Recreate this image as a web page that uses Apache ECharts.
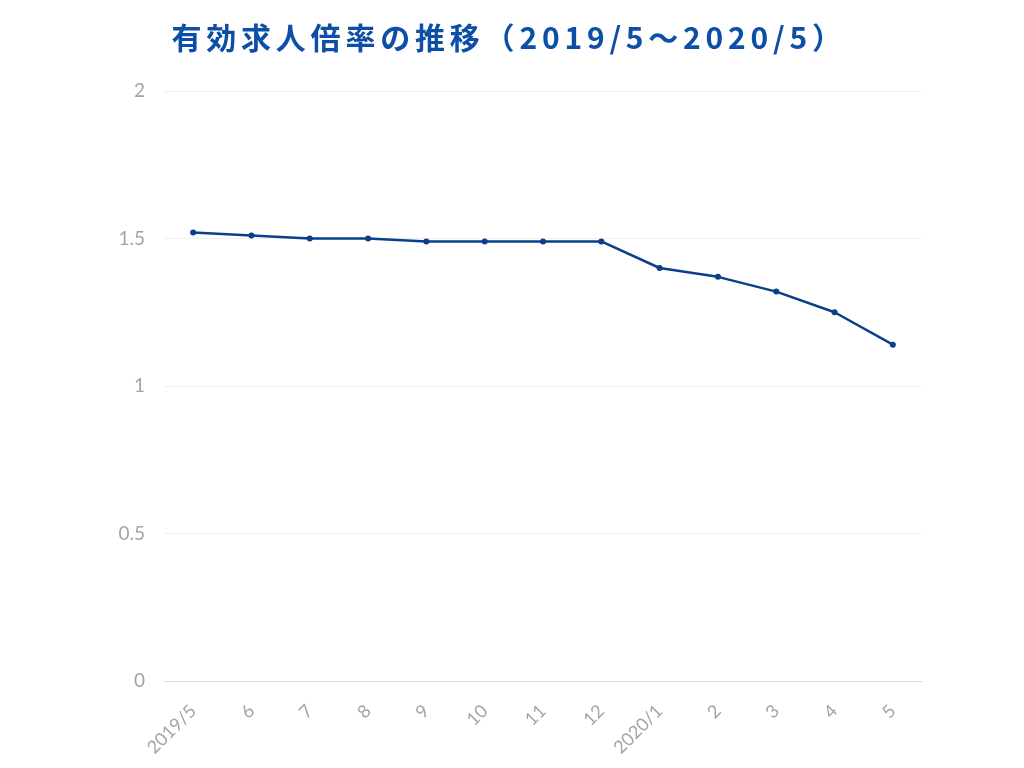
<!DOCTYPE html>
<html>
<head>
<meta charset="utf-8">
<script src="https://cdn.jsdelivr.net/npm/echarts@6/dist/echarts.min.js"></script>
<style>
  html, body { margin: 0; padding: 0; background: #fff; }
  #main { width: 1024px; height: 768px; }
</style>
</head>
<body>
<div id="main"></div>
<script>
// データ
const months = ['2019/5', '6', '7', '8', '9', '10', '11', '12', '2020/1', '2', '3', '4', '5']
const ratios = [1.52, 1.51, 1.50, 1.50, 1.49, 1.49, 1.49, 1.49, 1.40, 1.37, 1.32, 1.25, 1.14]
const titleText = '有効求人倍率の推移（2019/5〜2020/5）'

// タイトルは字間を空けたいので1文字ずつrichで包む
const spacedTitle = titleText.split('').map(ch => '{c|' + ch + '}').join('')

const chart = echarts.init(document.getElementById('main'))

chart.setOption({
  animation: false,
  title: {
    text: spacedTitle,
    left: 164,
    top: 18,
    textStyle: {
      color: '#0d4ea6',
      fontSize: 30,
      fontWeight: 'bold',
      fontFamily: '"Noto Sans CJK JP", sans-serif',
      rich: {
        c: {
          color: '#0d4ea6',
          fontSize: 30,
          fontWeight: 'bold',
          fontFamily: '"Noto Sans CJK JP", sans-serif',
          padding: [0, 2.4]
        }
      }
    }
  },
  grid: {
    left: 164,
    right: 102,
    top: 91,
    bottom: 87
  },
  xAxis: {
    type: 'category',
    data: months,
    boundaryGap: true,
    axisLine: { lineStyle: { color: '#dddddd' } },
    axisTick: { show: false },
    axisLabel: {
      rotate: 45,
      color: '#a4a4a4',
      fontSize: 18,
      fontFamily: 'Lato, sans-serif',
      margin: 27,
      interval: 0
    }
  },
  yAxis: {
    type: 'value',
    min: 0,
    max: 2,
    interval: 0.5,
    axisLine: { show: false },
    axisTick: { show: false },
    splitLine: { lineStyle: { color: '#efefef' } },
    axisLabel: {
      color: '#a4a4a4',
      fontSize: 19,
      fontFamily: 'Lato, sans-serif',
      margin: 19
    }
  },
  series: [{
    type: 'line',
    data: ratios,
    symbol: 'circle',
    symbolSize: 6,
    lineStyle: { color: '#0b3f8c', width: 2.5 },
    itemStyle: { color: '#0b3f8c' }
  }]
})
</script>
</body>
</html>
